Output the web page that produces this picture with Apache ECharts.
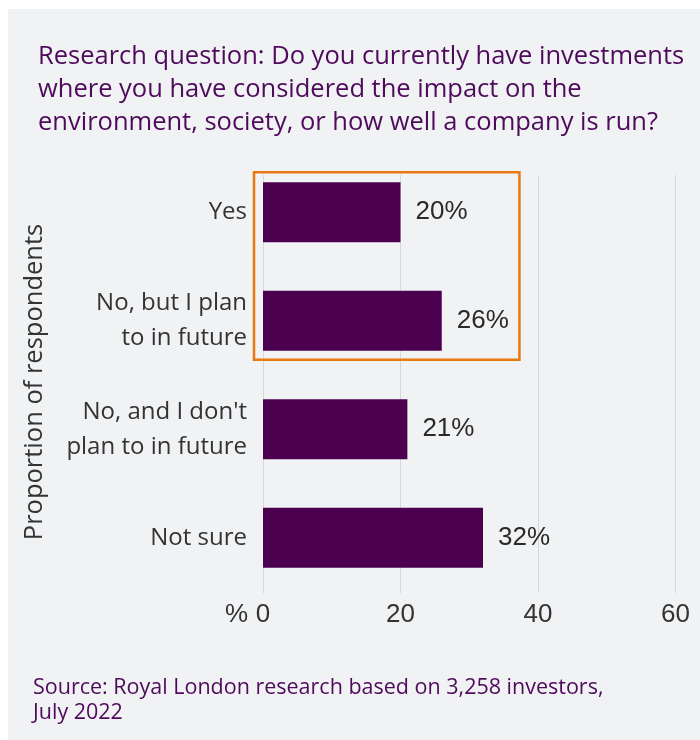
<!DOCTYPE html>
<html>
<head>
<meta charset="utf-8">
<script src="https://cdn.jsdelivr.net/npm/echarts@6/dist/echarts.min.js"></script>
<style>
  html, body { margin: 0; padding: 0; background: #ffffff; }
  #frame { position: absolute; left: 8px; top: 9px; width: 692px; height: 731px; background: #f1f2f4; }
  #chart { position: absolute; left: 0; top: 0; width: 700px; height: 740px; }
</style>
</head>
<body>
<div id="frame"></div>
<div id="chart"></div>
<script>
// Survey answers and their shares of respondents (%)
const categories = ['Yes', 'No, but I plan\nto in future', "No, and I don't\nplan to in future", 'Not sure'];
const shares = [20, 26, 21, 32];
const axisTicks = [0, 20, 40, 60];
const highlighted = ['Yes', 'No, but I plan\nto in future'];

const titleText = 'Research question: Do you currently have investments\nwhere you have considered the impact on the\nenvironment, society, or how well a company is run?';
const sourceText = 'Source: Royal London research based on 3,258 investors,\nJuly 2022';
const axisTitle = 'Proportion of respondents';

const PURPLE = '#4b0050';
const TEXT_PURPLE = '#4e0a5b';
const BODY_FONT = '"Open Sans"';
const NUM_FONT = 'Liberation Sans';

const chart = echarts.init(document.getElementById('chart'), null, { renderer: 'canvas' });

const option = {
  backgroundColor: 'transparent',
  animation: false,
  title: {
    text: titleText,
    left: 33, top: 35,
    textStyle: { fontFamily: BODY_FONT, fontSize: 25.5, fontWeight: 'normal', color: TEXT_PURPLE, lineHeight: 33 }
  },
  grid: [
    { left: 263, right: 24.5, top: 175, bottom: 147 },   // gridlines + value ticks
    { left: 263, right: 24.5, top: 158, height: 434 }    // bars
  ],
  xAxis: [
    {
      gridIndex: 0, type: 'value', min: axisTicks[0], max: axisTicks[axisTicks.length - 1], interval: 20,
      axisLine: { show: false }, axisTick: { show: false },
      axisLabel: { margin: 9, fontFamily: NUM_FONT, fontSize: 26, color: '#333333' },
      splitLine: { show: true, lineStyle: { color: '#d6d9dc', width: 1 } }
    },
    { gridIndex: 1, type: 'value', min: axisTicks[0], max: axisTicks[axisTicks.length - 1], show: false }
  ],
  yAxis: [
    { gridIndex: 0, type: 'category', data: categories, inverse: true, show: false },
    {
      gridIndex: 1, type: 'category', data: categories, inverse: true,
      axisLine: { show: false }, axisTick: { show: false },
      axisLabel: { margin: 16, fontFamily: BODY_FONT, fontSize: 24, color: '#333333', lineHeight: 35, align: 'right' }
    }
  ],
  series: [{
    type: 'bar', xAxisIndex: 1, yAxisIndex: 1,
    data: shares, barWidth: 60,
    itemStyle: { color: PURPLE },
    label: {
      show: true, position: 'right', distance: 15,
      formatter: p => p.value + '%',
      fontFamily: NUM_FONT, fontSize: 26, color: '#2a2a2a'
    }
  }],
  graphic: [{
    type: 'text', left: 33, top: 675,
    style: { text: sourceText, fontFamily: BODY_FONT, fontSize: 21.5, fill: TEXT_PURPLE, lineHeight: 25 }
  }, {
    type: 'text', x: 35, y: 382, rotation: Math.PI / 2,
    style: { text: axisTitle, fontFamily: BODY_FONT, fontSize: 25.5, fill: '#333333', align: 'center', verticalAlign: 'middle' }
  }]
};
chart.setOption(option);

// Orange outline around the highlighted answers, and the "%" unit beside the zero tick
const firstY = chart.convertToPixel({ yAxisIndex: 1 }, highlighted[0]);
const lastY = chart.convertToPixel({ yAxisIndex: 1 }, highlighted[highlighted.length - 1]);
const x0 = chart.convertToPixel({ xAxisIndex: 1 }, 0);
const xEnd = chart.convertToPixel({ xAxisIndex: 1 }, 37.3);
const axisBottom = chart.convertToPixel({ yAxisIndex: 0 }, categories[categories.length - 1]) + 52;
chart.setOption({
  graphic: [option.graphic[0], option.graphic[1], {
    type: 'rect', z: 10,
    shape: { x: x0 - 9, y: firstY - 40, width: xEnd - x0 + 9, height: lastY - firstY + 79 },
    style: { fill: 'none', stroke: '#e8780f', lineWidth: 2.5 }
  }, {
    type: 'text', x: x0 - 15, y: axisBottom + 22,
    style: { text: '%', fontFamily: NUM_FONT, fontSize: 26, fill: '#333333', align: 'right', verticalAlign: 'middle' }
  }]
});
</script>
</body>
</html>
